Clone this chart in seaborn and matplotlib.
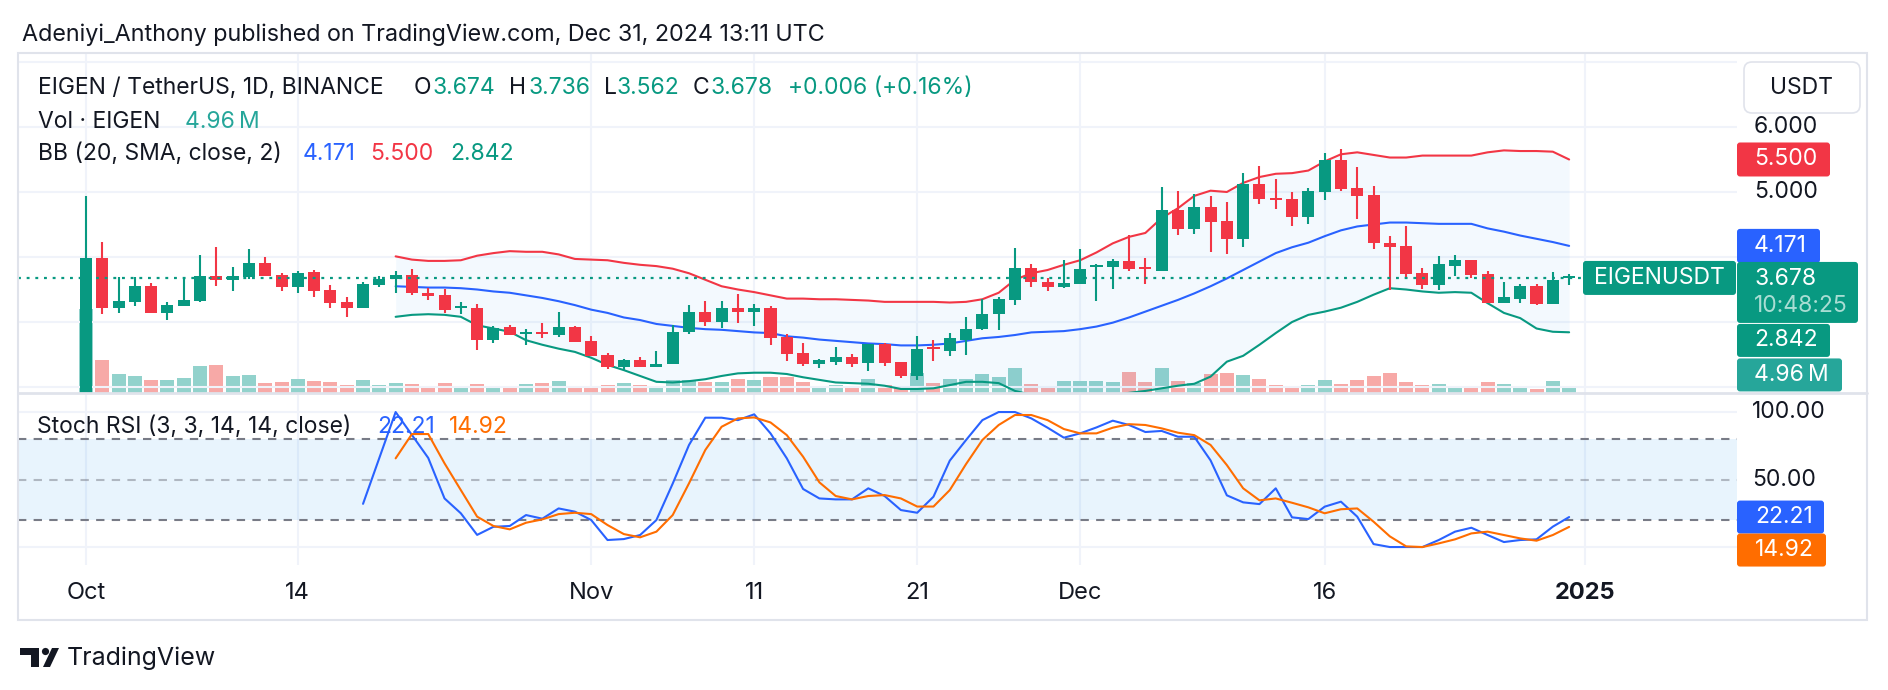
import numpy as np
import pandas as pd
import seaborn as sns
import matplotlib.pyplot as plt
from matplotlib.patches import FancyBboxPatch, Rectangle, Circle, Polygon
from matplotlib.transforms import IdentityTransform

# EIGEN / USDT daily candles, day 0 = 2024-10-01 ... day 91 = 2024-12-31
opens = [1.85, 3.99, 3.22, 3.31, 3.55, 3.14, 3.25, 3.32, 3.71, 3.64,
         3.70, 3.91, 3.72, 3.54, 3.77, 3.49, 3.31, 3.22, 3.57, 3.66,
         3.73, 3.45, 3.41, 3.22, 3.21, 2.73, 2.92, 2.82, 2.84, 2.80,
         2.92, 2.71, 2.49, 2.31, 2.41, 2.31, 2.36, 2.84, 3.15, 3.00,
         3.21, 3.16, 3.21, 2.77, 2.52, 2.36, 2.39, 2.46, 2.37, 2.66,
         2.38, 2.17, 2.61, 2.56, 2.72, 2.89, 3.13, 3.34, 3.83, 3.61,
         3.54, 3.59, 3.84, 3.84, 3.94, 3.84, 3.79, 4.72, 4.43, 4.77,
         4.55, 4.27, 5.12, 4.91, 4.89, 4.62, 5.00, 5.49, 5.06, 4.95,
         4.21, 4.17, 3.75, 3.57, 3.86, 3.95, 3.74, 3.29, 3.35, 3.55,
         3.28, 3.674]
highs = [4.94, 4.23, 3.69, 3.69, 3.60, 3.31, 3.66, 4.03, 4.15, 3.85,
         4.12, 4.00, 3.76, 3.79, 3.80, 3.57, 3.38, 3.61, 3.71, 3.78,
         3.81, 3.53, 3.51, 3.31, 3.28, 2.94, 2.96, 2.90, 2.99, 3.15,
         2.94, 2.79, 2.53, 2.43, 2.46, 2.55, 2.95, 3.26, 3.32, 3.32,
         3.43, 3.28, 3.24, 2.81, 2.67, 2.43, 2.61, 2.51, 2.66, 2.67,
         2.38, 2.79, 2.72, 2.83, 3.07, 3.35, 3.38, 4.14, 3.90, 3.67,
         3.95, 4.12, 3.90, 3.97, 4.34, 3.98, 5.08, 5.02, 4.97, 4.94,
         4.85, 5.29, 5.40, 5.20, 5.00, 5.06, 5.60, 5.66, 5.38, 5.09,
         4.32, 4.48, 3.83, 4.02, 4.03, 3.95, 3.79, 3.61, 3.58, 3.58,
         3.77, 3.736]
lows = [1.80, 3.12, 3.14, 3.25, 3.14, 3.03, 3.25, 3.31, 3.56, 3.47,
        3.66, 3.71, 3.47, 3.44, 3.39, 3.22, 3.08, 3.22, 3.54, 3.45,
        3.42, 3.34, 3.14, 3.13, 2.57, 2.68, 2.80, 2.64, 2.76, 2.77,
        2.70, 2.48, 2.27, 2.25, 2.31, 2.31, 2.36, 2.82, 2.94, 2.91,
        2.99, 2.94, 2.65, 2.40, 2.33, 2.29, 2.34, 2.31, 2.24, 2.33,
        2.14, 2.11, 2.40, 2.48, 2.50, 2.87, 2.87, 3.26, 3.54, 3.48,
        3.53, 3.58, 3.33, 3.51, 3.78, 3.59, 3.78, 4.34, 4.36, 4.08,
        4.05, 4.16, 4.82, 4.74, 4.48, 4.51, 4.87, 5.01, 4.59, 4.13,
        3.50, 3.68, 3.51, 3.50, 3.71, 3.67, 3.29, 3.29, 3.29, 3.26,
        3.28, 3.562]
closes = [3.99, 3.22, 3.32, 3.55, 3.14, 3.26, 3.34, 3.71, 3.64, 3.71,
          3.91, 3.71, 3.54, 3.75, 3.48, 3.30, 3.22, 3.58, 3.66, 3.73,
          3.44, 3.40, 3.19, 3.24, 2.73, 2.91, 2.80, 2.84, 2.82, 2.93,
          2.70, 2.48, 2.31, 2.41, 2.31, 2.36, 2.85, 3.15, 3.00, 3.21,
          3.16, 3.21, 2.76, 2.51, 2.36, 2.42, 2.46, 2.36, 2.66, 2.37,
          2.17, 2.58, 2.58, 2.75, 2.90, 3.13, 3.35, 3.83, 3.61, 3.54,
          3.60, 3.82, 3.86, 3.94, 3.82, 3.81, 4.72, 4.43, 4.77, 4.54,
          4.27, 5.12, 4.89, 4.88, 4.62, 5.02, 5.49, 5.05, 4.94, 4.21,
          4.16, 3.74, 3.57, 3.89, 3.95, 3.72, 3.29, 3.38, 3.56, 3.28,
          3.65, 3.678]
# volume in millions of EIGEN
volumes = [84, 32.7, 18.7, 16.7, 12.7, 12.7, 14.7, 26.7, 27.7, 16.7,
           17.7, 9.7, 10.7, 13.7, 11.7, 10.7, 7.7, 12.7, 7.7, 9.7,
           8.7, 6.7, 9.7, 6.7, 8.7, 7, 5, 9, 10, 12,
           6, 7, 8, 10, 8, 7, 13, 13, 11, 11,
           14, 13, 16, 16, 11, 7, 8, 6, 14, 8,
           7, 20, 10, 14, 14, 19, 16, 25, 9, 6,
           12, 12, 12, 11, 21, 11, 25, 12, 10, 19,
           20, 18, 14, 8, 6, 8, 13, 9, 13, 17,
           20, 11, 8, 9, 7, 6, 11, 9, 5, 4,
           12, 4.96]

# Bollinger Bands (20, SMA, close, 2), days 19..91
bb_upper = [4.01, 3.96, 3.94, 3.94, 3.95, 4.02, 4.06, 4.09, 4.08, 4.08,
            4.04, 3.97, 3.96, 3.95, 3.91, 3.88, 3.86, 3.82, 3.75, 3.65,
            3.55, 3.50, 3.46, 3.41, 3.36, 3.36, 3.35, 3.35, 3.34, 3.33,
            3.31, 3.31, 3.31, 3.31, 3.30, 3.31, 3.35, 3.45, 3.65, 3.75,
            3.80, 3.88, 3.95, 4.07, 4.21, 4.31, 4.37, 4.60, 4.75, 4.94,
            5.02, 5.00, 5.14, 5.23, 5.28, 5.29, 5.33, 5.47, 5.58, 5.61,
            5.57, 5.53, 5.53, 5.56, 5.56, 5.56, 5.56, 5.61, 5.64, 5.63,
            5.63, 5.62, 5.50]
bb_basis = [3.55, 3.54, 3.53, 3.53, 3.52, 3.50, 3.47, 3.45, 3.41, 3.37,
            3.32, 3.26, 3.19, 3.14, 3.07, 3.03, 2.97, 2.94, 2.91, 2.89,
            2.88, 2.86, 2.84, 2.83, 2.78, 2.76, 2.73, 2.71, 2.69, 2.67,
            2.66, 2.64, 2.64, 2.65, 2.67, 2.71, 2.75, 2.77, 2.80, 2.84,
            2.85, 2.86, 2.89, 2.93, 2.99, 3.07, 3.16, 3.25, 3.34, 3.44,
            3.55, 3.67, 3.80, 3.93, 4.06, 4.15, 4.22, 4.32, 4.41, 4.47,
            4.50, 4.53, 4.53, 4.52, 4.51, 4.51, 4.51, 4.44, 4.39, 4.33,
            4.28, 4.23, 4.171]
bb_lower = [3.08, 3.11, 3.12, 3.11, 3.08, 2.95, 2.90, 2.85, 2.72, 2.65,
            2.59, 2.54, 2.45, 2.34, 2.26, 2.17, 2.08, 2.07, 2.09, 2.12,
            2.17, 2.21, 2.22, 2.22, 2.20, 2.15, 2.11, 2.07, 2.06, 2.05,
            2.02, 1.97, 1.97, 1.98, 2.03, 2.08, 2.08, 2.06, 1.94, 1.88,
            1.85, 1.83, 1.82, 1.84, 1.87, 1.91, 1.94, 1.98, 2.02, 2.05,
            2.16, 2.39, 2.48, 2.65, 2.83, 3.00, 3.11, 3.16, 3.22, 3.31,
            3.42, 3.52, 3.50, 3.47, 3.45, 3.46, 3.45, 3.29, 3.14, 3.06,
            2.90, 2.85, 2.842]

# Stoch RSI (3, 3, 14, 14, close): %K from day 17, %D from day 19
stoch_k = [32, 66, 100, 83, 66, 36, 25, 9, 15, 15.6,
           23.7, 21, 28.6, 26.2, 20, 5.2, 5.9, 8.9, 20, 47,
           75.6, 95.8, 95.8, 94, 98.3, 84.2, 65.7, 43, 36, 35.3,
           35.3, 43.5, 37.8, 27.4, 25.4, 37.3, 64, 79.3, 94, 100,
           100, 95.3, 88.4, 81, 84.2, 88.6, 93.6, 90.4, 85.2, 86,
           81.7, 81.7, 64.2, 38.3, 33.1, 31.8, 43.5, 22, 20.7, 29.9,
           33.6, 22.5, 2.2, 0, 0, 0, 5.2, 11.4, 14.3, 8.9,
           3.7, 5.2, 5.7, 15.1, 22.21]
stoch_d = [65.7, 83.7, 83.7, 62, 42.2, 22.5, 15.6, 13.1, 18, 20.5,
           24.4, 25.4, 24.4, 16.3, 9.6, 7.2, 11.4, 23.7, 47.2, 71.9,
           89.1, 95.3, 96, 92.3, 82.9, 66.9, 47.9, 37.8, 35.3, 37.8,
           38.5, 36, 30, 30, 42.2, 61.5, 79.3, 90.4, 97.8, 97.8,
           94, 87.4, 84.2, 84.2, 88.4, 91, 90.4, 87.9, 84.7, 82.9,
           75.6, 60.7, 43.5, 34.6, 36, 32.8, 29.4, 25, 28, 28.6,
           18.8, 7.9, 0.5, 0, 2.7, 5.7, 10.1, 11.4, 8.9, 6.4,
           4.7, 8.9, 14.92]

tick_days = [0, 13, 31, 41, 51, 61, 76, 92]
tick_labels = ["Oct", "14", "Nov", "11", "21", "Dec", "16", "2025"]

GREEN, RED, BLUE, ORANGE = "#089981", "#f23645", "#2962ff", "#ff6d00"
VOL_UP, VOL_DN = "#92d2cc", "#f7a9a7"
TXT, GRID, FRAME = "#131722", "#f0f3fa", "#e0e3eb"

df = pd.DataFrame({"day": np.arange(len(closes)), "open": opens, "high": highs,
                   "low": lows, "close": closes, "volume": volumes})
df["up"] = df["close"] >= df["open"]
bb = pd.DataFrame({"day": np.arange(19, 19 + len(bb_basis)), "upper": bb_upper,
                   "basis": bb_basis, "lower": bb_lower})
kdf = pd.DataFrame({"day": np.arange(17, 17 + len(stoch_k)), "k": stoch_k})
ddf = pd.DataFrame({"day": np.arange(19, 19 + len(stoch_d)), "d": stoch_d})

sns.set_theme(style="white")
plt.rcParams["font.family"] = ["Inter", "DejaVu Sans"]

W, H = 1888, 690
fig = plt.figure(figsize=(W / 100, H / 100), dpi=100)
fig.patch.set_facecolor("white")
PX = IdentityTransform()


def rect(l, t, r, b):
    return [l / W, 1 - b / H, (r - l) / W, (b - t) / H]


vax = fig.add_axes(rect(18, 53, 1737, 393))
ax = fig.add_axes(rect(18, 53, 1737, 393), sharex=vax)
sax = fig.add_axes(rect(18, 393, 1737, 565), sharex=vax)
ax.patch.set_visible(False)
for a in (vax, ax, sax):
    for s in a.spines.values():
        s.set_visible(False)
    a.set_yticks([])
vax.set_xlim(-4.17, 101.3)
ax.set_ylim(1.908, 7.138)
vax.set_ylim(0, 340)
sax.set_ylim(-13.3, 114.1)

# grid
for d in tick_days:
    vax.axvline(d, color=GRID, lw=1.5, zorder=0)
    sax.axvline(d, color=GRID, lw=1.5, zorder=0)
for p in [2, 3, 4, 5, 6, 7]:
    ax.axhline(p, color=GRID, lw=1.5, zorder=0)
for v in [0, 100]:
    sax.axhline(v, color=GRID, lw=1.5, zorder=0)

# volume
vax.bar(df["day"], df["volume"], width=0.86,
        color=np.where(df["up"], VOL_UP, VOL_DN), linewidth=0, zorder=2)

# Bollinger Bands
ax.fill_between(bb["day"], bb["lower"], bb["upper"], color="#2196f3", alpha=0.05,
                linewidth=0, zorder=1)
sns.lineplot(data=bb, x="day", y="upper", ax=ax, color=RED, lw=1.5, zorder=2)
sns.lineplot(data=bb, x="day", y="basis", ax=ax, color=BLUE, lw=1.5, zorder=2)
sns.lineplot(data=bb, x="day", y="lower", ax=ax, color=GREEN, lw=1.5, zorder=2)

# candles
ccol = np.where(df["up"], GREEN, RED)
ax.vlines(df["day"], df["low"], df["high"], colors=ccol, lw=1.5, zorder=3)
body_lo = np.minimum(df["open"], df["close"])
body_h = np.maximum((df["close"] - df["open"]).abs(), 0.03)
ax.bar(df["day"], body_h, bottom=body_lo, width=0.74, color=ccol, linewidth=0, zorder=4)

# last price line
ax.axhline(closes[-1], xmax=(1582 - 18) / (1737 - 18), color=GREEN, lw=1.6,
           ls=(0, (1.3, 2.6)), zorder=5)

# Stoch RSI pane
sax.axhspan(20, 80, color="#2196f3", alpha=0.1, lw=0, zorder=0)
sax.axhline(80, color="#787b86", lw=1.5, ls=(0, (4, 3.5)), zorder=1)
sax.axhline(20, color="#787b86", lw=1.5, ls=(0, (4, 3.5)), zorder=1)
sax.axhline(50, color="#787b86", lw=1.5, ls=(0, (4, 3.5)), alpha=0.5, zorder=1)
sns.lineplot(data=kdf, x="day", y="k", ax=sax, color=BLUE, lw=1.5, zorder=3)
sns.lineplot(data=ddf, x="day", y="d", ax=sax, color=ORANGE, lw=1.5, zorder=3)

for a in (vax, ax):
    a.set_xlabel("")
    a.set_ylabel("")
    a.tick_params(bottom=False, labelbottom=False, left=False, labelleft=False)
sax.set_ylabel("")
sax.set_xlabel("")
sax.set_xticks(tick_days)
sax.set_xticklabels(tick_labels, fontsize=17, color=TXT)
sax.tick_params(axis="x", length=0, pad=12.5)
sax.get_xticklabels()[-1].set_fontweight("bold")
sax.tick_params(left=False, labelleft=False)

# frame and pane separator
fig.add_artist(Rectangle((18, H - 620), 1849, 567, transform=PX, fill=False,
                         ec=FRAME, lw=1.5))
fig.add_artist(plt.Line2D([18, 1867], [H - 393, H - 393], transform=PX, color=FRAME, lw=2))


def ypix(axis, v):
    return H - axis.transData.transform((0, v))[1]


def box(x0, x1, yc, h, face, r=3):
    fig.add_artist(FancyBboxPatch((x0, H - yc - h / 2), x1 - x0, h, transform=PX,
                                  boxstyle=f"round,pad=0,rounding_size={r}",
                                  fc=face, ec="none", zorder=6))


def ptext(x, y, s, color=TXT, size=16.5, ha="left", **kw):
    return fig.text(x / W, 1 - y / H, s, color=color, fontsize=size, ha=ha,
                    va="center", zorder=7, **kw)


# price scale
ptext(1754, ypix(ax, 6.0), "6.000")
ptext(1754, ypix(ax, 5.0), "5.000")
fig.add_artist(FancyBboxPatch((1744, H - 113), 116, 51, transform=PX,
                              boxstyle="round,pad=0,rounding_size=8",
                              fc="white", ec=FRAME, lw=1.2))
ptext(1802, 88, "USDT", ha="center")

y55 = ypix(ax, 5.5)
box(1737, 1830, y55, 34, RED)
ptext(1754, y55, "5.500", color="white")
y41 = ypix(ax, bb_basis[-1])
box(1737, 1820, y41, 34, BLUE)
ptext(1754, y41, "4.171", color="white")
ylast = ypix(ax, closes[-1])
box(1737, 1858, ylast + 14.5, 61, GREEN)
ptext(1754, ylast + 1, "3.678", color="white")
ptext(1754, ylast + 28, "10:48:25", color="#a9ddd3")
box(1583, 1736, ylast, 34, GREEN)
ptext(1659, ylast, "EIGENUSDT", color="white", ha="center")
ylow = max(ypix(ax, bb_lower[-1]), ylast + 14.5 + 30.5 + 17.5)
box(1737, 1830, ylow, 33, GREEN)
ptext(1754, ylow, "2.842", color="white")
yvol = ylow + 34.5
box(1737, 1842, yvol, 33, "#26a69a")
ptext(1754, yvol, "4.96\u2009M", color="white")

# stoch scale
ptext(1752, ypix(sax, 100), "100.00")
ptext(1752, ypix(sax, 50), "50.00")
yk = ypix(sax, stoch_k[-1])
box(1737, 1824, yk, 33, BLUE)
ptext(1755, yk, "22.21", color="white")
yd = yk + 33
box(1737, 1826, yd, 33, ORANGE)
ptext(1755, yd, "14.92", color="white")

# legends (x positions of each piece as in the screenshot)
LEG = 16.5
for x, s, c in [(38, "EIGEN / TetherUS, 1D, BINANCE", TXT),
                (414, "O", TXT), (433, "3.674", GREEN),
                (509, "H", TXT), (528, "3.736", GREEN),
                (604, "L", TXT), (617, "3.562", GREEN),
                (693, "C", TXT), (711, "3.678", GREEN),
                (788, "+0.006 (+0.16%)", GREEN)]:
    ptext(x, 88, s, color=c, size=LEG)
for x, s, c in [(38, "Vol \u00b7 EIGEN", TXT), (185, "4.96\u2009M", "#26a69a")]:
    ptext(x, 122, s, color=c, size=LEG)
for x, s, c in [(38, "BB (20, SMA, close, 2)", TXT), (303, "4.171", BLUE),
                (370, "5.500", RED), (450, "2.842", GREEN)]:
    ptext(x, 154, s, color=c, size=LEG)
for x, s, c in [(37, "Stoch RSI (3, 3, 14, 14, close)", TXT), (377, "22.21", BLUE),
                (449, "14.92", ORANGE)]:
    ptext(x, 427, s, color=c, size=LEG)

# header
ptext(22, 35, "Adeniyi_Anthony published on TradingView.com, Dec 31, 2024 13:11 UTC", size=16.8)

# TradingView logo
LY = 4
fig.add_artist(Rectangle((20, H - 651 - LY), 19, 7, transform=PX, fc=TXT, ec="none"))
fig.add_artist(Rectangle((31, H - 663 - LY), 8, 19, transform=PX, fc=TXT, ec="none"))
fig.add_artist(Circle((45.5, H - 647.5 - LY), 3.6, transform=PX, fc=TXT, ec="none"))
fig.add_artist(Polygon([(43, H - 663 - LY), (50, H - 663 - LY), (59, H - 644 - LY),
                        (52, H - 644 - LY)], transform=PX, fc=TXT, ec="none"))
ptext(67, 658, "TradingView", size=18)

fig.savefig("out.png", dpi=100, facecolor="white")
